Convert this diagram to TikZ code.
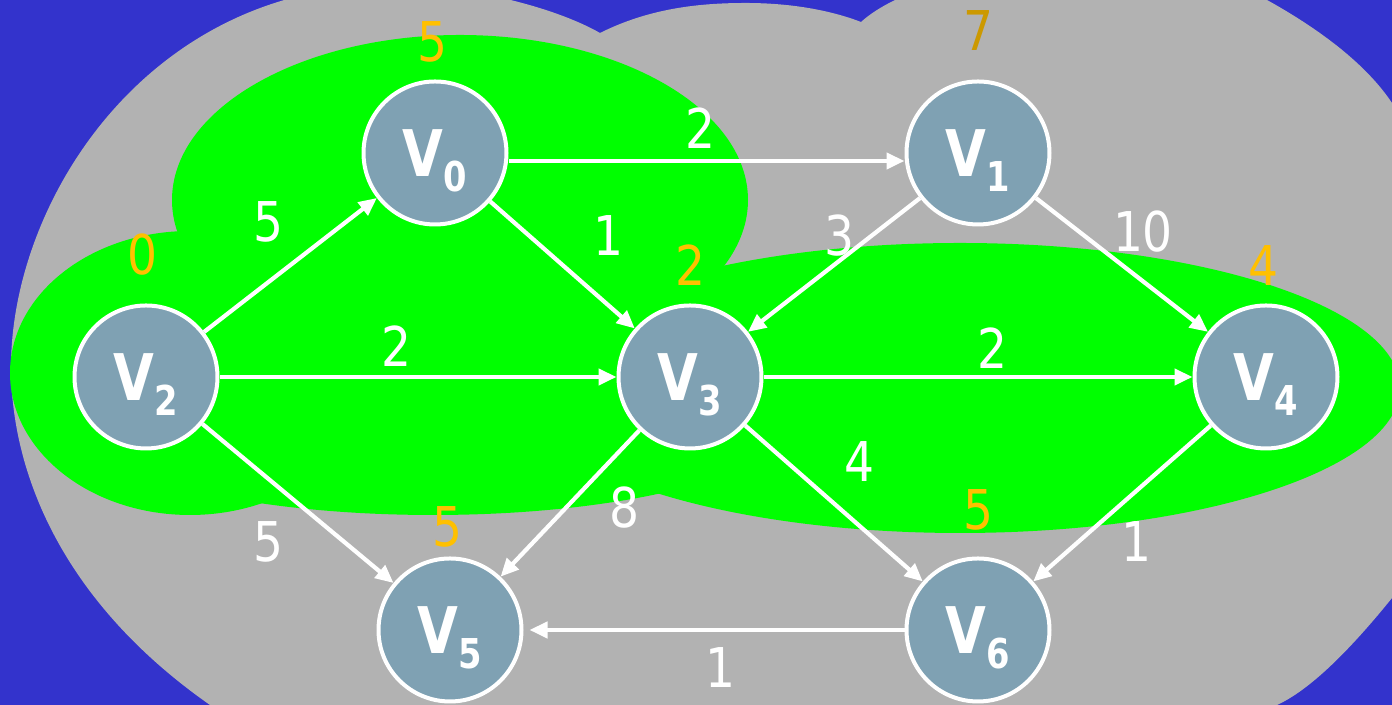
\documentclass[tikz,border=0pt]{standalone}
\usepackage{fontspec}
\usepackage{tikz}
\usepackage{xcolor}
\usetikzlibrary{arrows.meta,positioning}
\newfontfamily\wtfont[FakeStretch=0.86]{DejaVu Sans}
\newfontfamily\vxfont[FakeStretch=0.82]{DejaVu Sans}
\definecolor{cBlue}{HTML}{3333CC}
\definecolor{cGrey}{HTML}{B2B2B2}
\definecolor{cGreen}{HTML}{00FF00}
\definecolor{cNode}{HTML}{7FA1B3}
\definecolor{cOrange}{HTML}{FFC000}
\definecolor{cGold}{HTML}{CC9900}
\newcommand{\vx}[1]{V\raisebox{-4.3pt}[0pt][0pt]{\fontsize{11.7}{12}\selectfont #1}}
\tikzset{
  >={Triangle[length=1.8mm,width=1.6mm]},
  vtx/.style ={circle,draw=white,fill=cNode,line width=0.4mm,minimum size=14.3mm,
               inner sep=0pt,text=white,font=\vxfont\bfseries\fontsize{18.3}{20}\selectfont},
  ar/.style  ={->,white,line width=0.42mm},
  wt/.style  ={text=white,inner sep=0pt,font=\wtfont\fontsize{15.6}{18}\selectfont},
  dist/.style={wt,text=cOrange},
}

\begin{document}
\begin{tikzpicture}[x=0.1mm,y=-0.1mm]
\useasboundingbox (0,0) rectangle (1392,705);
\clip (0,0) rectangle (1392,705);
\fill[cBlue] (0,0) rectangle (1392,705);
% grey cloud
\fill[cGrey] (210,760) -- (210,705)
  .. controls (60,600) and (11,470) .. (11,367)
  .. controls (11,200) and (150,-20) .. (400,-15)
  .. controls (480,-13) and (560,10) .. (600,33)
  .. controls (650,8) and (700,3) .. (746,3)
  .. controls (790,3) and (830,10) .. (861,22)
  .. controls (930,-40) and (1150,-60) .. (1267,0)
  .. controls (1330,35) and (1370,70) .. (1392,103)
  .. controls (1450,200) and (1460,500) .. (1392,598)
  .. controls (1350,650) and (1310,690) .. (1277,705)
  -- (1277,760) -- cycle;
% green cloud
\fill[cGreen] (460,200) ellipse [x radius=288,y radius=165];
\fill[cGreen] (190,373) ellipse [x radius=180,y radius=142];
\fill[cGreen] (433,415) ellipse [x radius=366,y radius=100];
\fill[cGreen] (960,388) ellipse [x radius=440,y radius=145];

\node[vtx] (v0) at (435,153) {\vx{0}};
\node[vtx] (v1) at (978,153) {\vx{1}};
\node[vtx] (v2) at (146,377) {\vx{2}};
\node[vtx] (v3) at (690,377) {\vx{3}};
\node[vtx] (v4) at (1266,377) {\vx{4}};
\node[vtx] (v5) at (450,630) {\vx{5}};
\node[vtx] (v6) at (978,630) {\vx{6}};

\draw[ar] (v2) -- (v0);
\draw[ar] ([yshift=-0.8mm]v0.east) -- ([yshift=-0.8mm]v1.west);
\draw[ar] (v0) -- (v3);
\draw[ar] (v1) -- (v3);
\draw[ar] (v1) -- (v4);
\draw[ar] (v2) -- (v3);
\draw[ar] (v3) -- (v4);
\draw[ar] (v2) -- (v5);
\draw[ar] (v3) -- (v5);
\draw[ar] (v3) -- (v6);
\draw[ar] (v4) -- (v6);
\draw[ar,shorten >=0.6mm] (v6) -- (v5);

% weights
\node[wt] (w20) at (268,222) {5};
\node[wt] (w01) at (700,128) {2};
\node[wt] (w03) at (608,236) {1};
\node[wt] (w13) at (839,236) {3};
\node[wt] (w14) at (1143,232) {10};
\node[wt] (w23) at (396,346) {2};
\node[wt] (w34) at (992,348) {2};
\node[wt] (w36) at (859,462) {4};
\node[wt] (w35) at (624,508) {8};
\node[wt] (w25) at (268,542) {5};
\node[wt] (w46) at (1136,542) {1};
\node[wt] (w65) at (720,668) {1};

% distances
\node[dist,above=1.65mm of v0,xshift=-0.3mm] (d0) {5};
\node[dist,above=2.85mm of v1,text=cGold] (d1) {7};
\node[dist,above=2.75mm of v2,xshift=-0.3mm] (d2) {0};
\node[dist,above=1.75mm of v3] (d3) {2};
\node[dist,above=1.75mm of v4,xshift=-0.3mm] (d4) {4};
\node[dist,above=0.85mm of v5,xshift=-0.3mm] (d5) {5};
\node[dist,above=2.55mm of v6] (d6) {5};
\end{tikzpicture}
\end{document}
